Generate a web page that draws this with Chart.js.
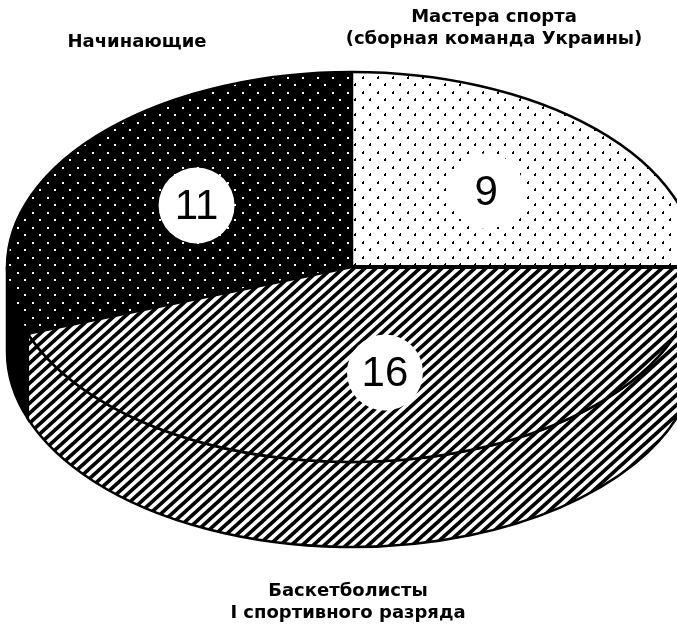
<!DOCTYPE html>
<html lang="ru">
<head>
<meta charset="utf-8">
<title>Состав испытуемых</title>
<script src="https://cdn.jsdelivr.net/npm/chart.js@4.4.1/dist/chart.umd.min.js"></script>
<style>
  html, body { margin: 0; padding: 0; background: #fff; }
  #wrap { width: 677px; height: 628px; overflow: hidden; }
</style>
</head>
<body>
<div id="wrap"><canvas id="pie" width="677" height="628"></canvas></div>
<script>
// ====== Данные ======
const groupNames = [
  ['Мастера спорта', '(сборная команда Украины)'],
  ['Баскетболисты', 'I спортивного разряда'],
  ['Начинающие']
];
const playerCounts = [9, 16, 11];

// ====== Штриховки ======
function makeTile(w, h, paint) {
  const c = document.createElement('canvas');
  c.width = w; c.height = h;
  paint(c.getContext('2d'), w, h);
  return c;
}

const dotTile = makeTile(15, 15, (g, w, h) => {
  g.fillStyle = '#fff'; g.fillRect(0, 0, w, h);
  g.fillStyle = '#000';
  g.fillRect(2, 2, 2, 2);
  g.fillRect(3, 1, 1, 1);
  g.fillRect(9, 9, 2, 2);
  g.fillRect(10, 8, 1, 1);
});

const darkTile = makeTile(15, 15, (g, w, h) => {
  g.fillStyle = '#000'; g.fillRect(0, 0, w, h);
  g.fillStyle = '#fff';
  g.fillRect(2, 2, 2, 2);
  g.fillRect(9, 9, 2, 2);
});

// косая штриховка "/" (шаг 11 по горизонтали, 10 по вертикали)
const hatchTile = makeTile(11, 10, (g, w, h) => {
  g.fillStyle = '#fff'; g.fillRect(0, 0, w, h);
  g.strokeStyle = '#000'; g.lineWidth = 3.6;
  g.beginPath();
  [-1, 0, 1].forEach(k => {
    g.moveTo(-w + k * w, 2 * h);
    g.lineTo(2 * w + k * w, -h);
  });
  g.stroke();
});

const ctx = document.getElementById('pie').getContext('2d');
const pat = (t) => ctx.createPattern(t, 'repeat');

// верхняя грань рисуется в растянутых координатах, боковая — в обычных
const topFills = [pat(dotTile), pat(hatchTile), pat(darkTile)];
const sideFills = [pat(dotTile), pat(hatchTile), '#000'];

// ====== Плагин: эллипс + боковина + подписи ======
const ellipsePie = {
  id: 'ellipsePie',

  beforeDatasetsDraw(chart, args, o) {
    const arcs = chart.getDatasetMeta(0).data;
    if (!arcs.length) return;
    const { x, y, outerRadius: r } = arcs[0];
    const kx = o.rx / r, ky = o.ry / r;
    const c = chart.ctx;

    // боковая поверхность (видна только передняя половина)
    arcs.forEach((a, i) => {
      const s = Math.max(a.startAngle, 0);
      const e = Math.min(a.endAngle, Math.PI);
      if (s >= e) return;
      c.save();
      c.beginPath();
      c.ellipse(x, y, o.rx, o.ry, 0, s, e);
      c.ellipse(x, y + o.depth, o.rx, o.ry, 0, e, s, true);
      c.closePath();
      c.fillStyle = sideFills[i];
      c.fill();
      c.lineWidth = 2.5;
      c.strokeStyle = '#000';
      c.stroke();
      c.restore();
    });

    // узор верхней грани — в координатах экрана
    const inv = new DOMMatrix().translate(x, y).scale(1 / kx, 1 / ky).translate(-x, -y);
    topFills.forEach(p => p.setTransform && p.setTransform(inv));

    c.save();
    c.translate(x, y);
    c.scale(kx, ky);
    c.translate(-x, -y);
  },

  afterDatasetsDraw(chart, args, o) {
    const arcs = chart.getDatasetMeta(0).data;
    if (!arcs.length) return;
    const c = chart.ctx;
    c.restore();
    const { x, y } = arcs[0];

    c.save();
    c.strokeStyle = '#000';
    c.lineWidth = 2.5;
    c.beginPath();
    c.ellipse(x, y, o.rx, o.ry, 0, 0, Math.PI * 2);
    c.stroke();

    arcs.forEach((a, i) => {
      c.lineWidth = o.edgeWidths[i];
      c.beginPath();
      c.moveTo(x, y);
      c.lineTo(x + o.rx * Math.cos(a.startAngle), y + o.ry * Math.sin(a.startAngle));
      c.stroke();
    });
    c.restore();
  },

  afterDraw(chart, args, o) {
    const arcs = chart.getDatasetMeta(0).data;
    if (!arcs.length) return;
    const c = chart.ctx;
    const { x, y } = arcs[0];
    const values = chart.data.datasets[0].data;

    c.save();
    c.textAlign = 'center';
    c.textBaseline = 'middle';

    // кружки с числами
    arcs.forEach((a, i) => {
      const mid = (a.startAngle + a.endAngle) / 2;
      const px = x + o.rx * o.badgeAt * Math.cos(mid);
      const py = y + o.ry * o.badgeAt * Math.sin(mid);
      c.fillStyle = '#fff';
      c.beginPath();
      c.arc(px, py, o.badgeRadius, 0, Math.PI * 2);
      c.fill();
      c.fillStyle = '#000';
      c.font = o.badgeFont;
      c.fillText(String(values[i]), px, py + 2);
    });

    // подписи групп
    c.font = o.labelFont;
    if ('letterSpacing' in c) c.letterSpacing = o.letterSpacing;
    c.fillStyle = '#000';
    chart.data.labels.forEach((lines, i) => {
      const an = o.labelAnchors[i];
      [].concat(lines).forEach((t, k) => c.fillText(t, an.x, an.y + k * o.lineHeight));
    });
    c.restore();
  }
};

new Chart(ctx, {
  type: 'pie',
  data: {
    labels: groupNames,
    datasets: [{
      data: playerCounts,
      backgroundColor: topFills,
      borderWidth: 0,
      hoverOffset: 0
    }]
  },
  options: {
    responsive: false,
    devicePixelRatio: 1,
    animation: false,
    events: [],
    layout: { padding: { left: 27, right: 0, top: 0, bottom: 94 } },
    plugins: {
      legend: { display: false },
      tooltip: { enabled: false },
      ellipsePie: {
        rx: 345,
        ry: 195,
        depth: 85,
        edgeWidths: [2.5, 4, 2.5],
        badgeAt: 0.55,
        badgeRadius: 38,
        badgeFont: '42px "Liberation Sans", Arial, sans-serif',
        labelFont: 'bold 18px "DejaVu Sans", sans-serif',
        letterSpacing: '0px',
        lineHeight: 22,
        labelAnchors: [{ x: 494, y: 17 }, { x: 348, y: 591 }, { x: 137, y: 42 }]
      }
    }
  },
  plugins: [ellipsePie]
});
</script>
</body>
</html>
